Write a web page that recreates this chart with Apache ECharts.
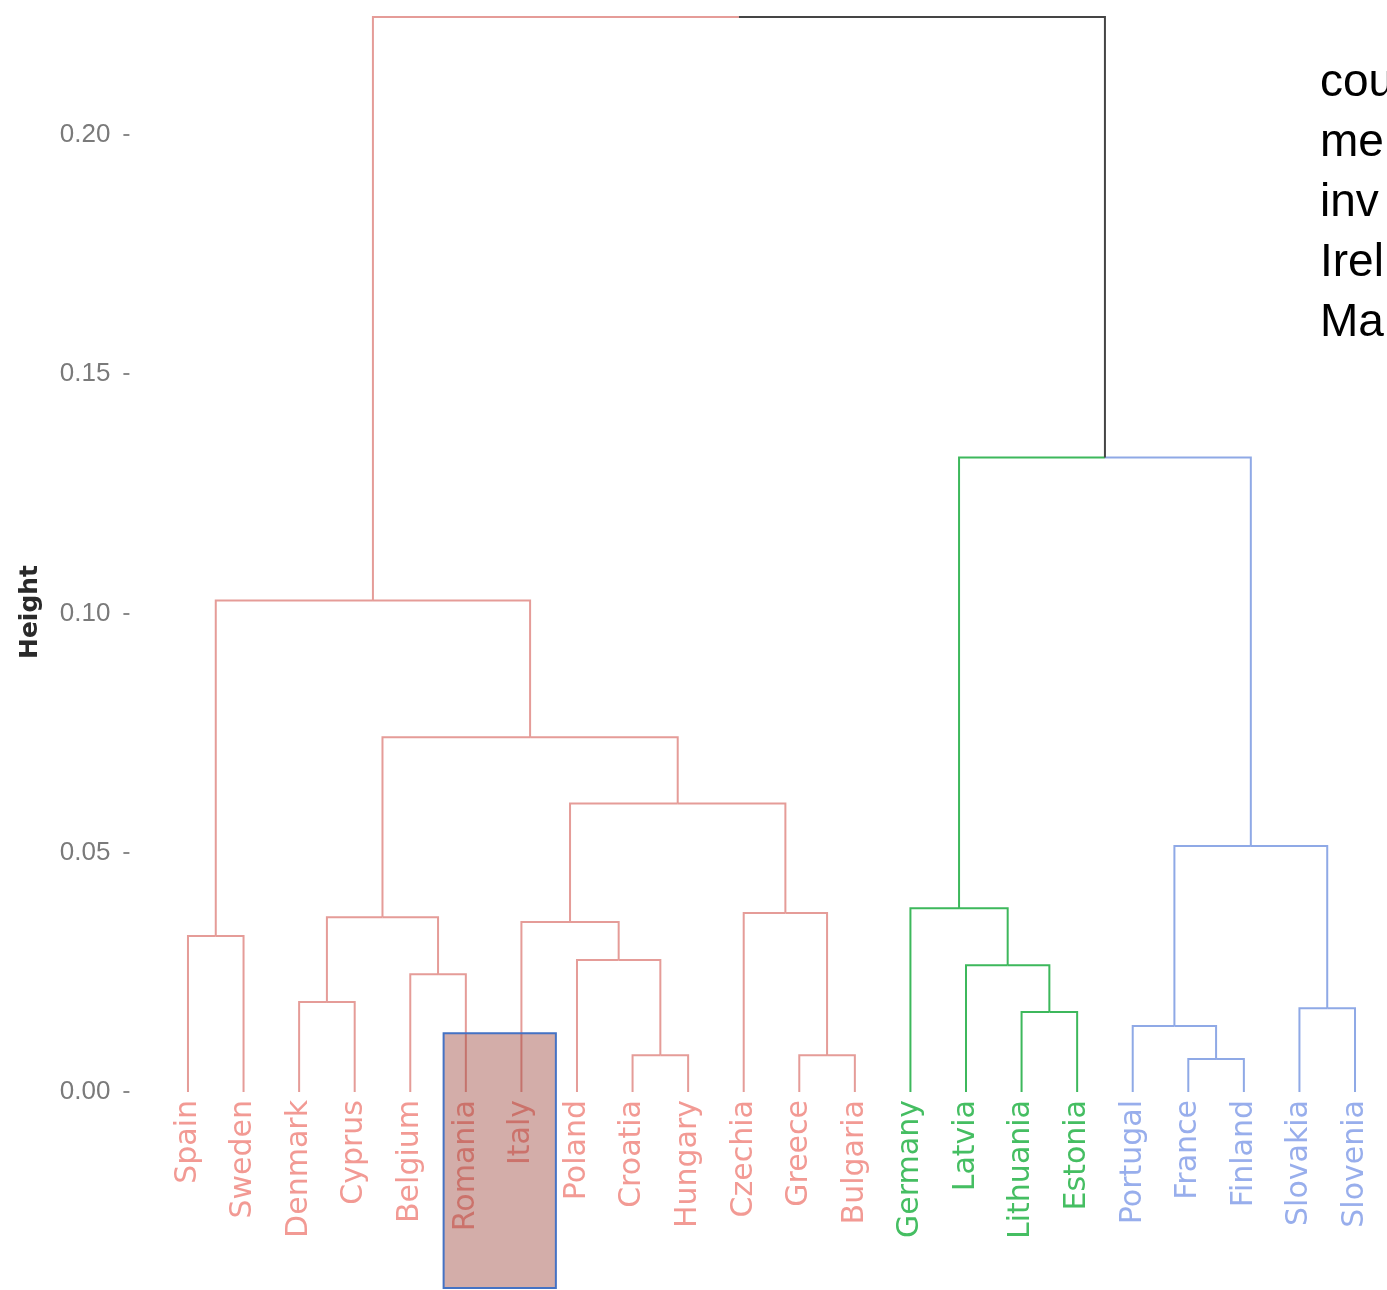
<!DOCTYPE html>
<html><head><meta charset="utf-8">
<script src="https://cdn.jsdelivr.net/npm/echarts@6/dist/echarts.min.js"></script>
<style>html,body{margin:0;padding:0;background:#fff}#c{width:1387px;height:1290px}</style>
</head><body><div id="c"></div>
<script>
// ---- data ----
const leafLabels = ['Spain','Sweden','Denmark','Cyprus','Belgium','Romania','Italy','Poland','Croatia','Hungary','Czechia','Greece','Bulgaria','Germany','Latvia','Lithuania','Estonia','Portugal','France','Finland','Slovakia','Slovenia'];
const leafCluster = [0,0,0,0,0,0,0,0,0,0,0,0,0,1,1,1,1,2,2,2,2,2];
// hclust-style merges: negative = leaf (1-based position), positive = earlier merge step (1-based)
const mergeLeft   = [-19,-9,-12,-18,-16,-21,-3,-5,-15,-8,-1,-7,7,-11,-14,4,12,13,11,15,19];
const mergeRight  = [-20,-10,-13,1,-17,-22,-4,-6,5,2,-2,10,8,3,9,6,14,17,18,16,20];
const mergeHeight = [0.0069,0.0077,0.0077,0.0138,0.0167,0.0175,0.0188,0.0246,0.0265,0.0276,0.0326,0.0355,0.0365,0.0374,0.0384,0.0514,0.0603,0.0741,0.1027,0.1326,0.2246];
const yTicks = [0, 0.05, 0.10, 0.15, 0.20];
const highlightLeaves = ['Romania','Italy'];
const highlightTop = 0.0123;
const sideText = ['cou','me','inv','Irel','Ma'];

// ---- styles ----
const lineColors = ['#E59C98','#3DB85C','#8FA9E6','#454545'];
const labelColors = ['#F29A94','#45BE62','#98AEEC'];

// ---- build edges from merges ----
const merged = [];
const edges = [];
function nodeOf(ref){
  if (ref < 0) { const i = -ref - 1; return {x: i, h: 0, leaves: [i]}; }
  return merged[ref - 1];
}
for (let k = 0; k < mergeHeight.length; k++) {
  const a = nodeOf(mergeLeft[k]), b = nodeOf(mergeRight[k]);
  const x = (a.x + b.x) / 2, h = mergeHeight[k];
  [a, b].forEach(c => {
    const cl = leafCluster[c.leaves[0]];
    const same = c.leaves.every(l => leafCluster[l] === cl);
    edges.push([x, h, c.x, c.h, same ? cl : 3]);
  });
  merged.push({x, h, leaves: a.leaves.concat(b.leaves)});
}
const hiIdx = highlightLeaves.map(n => leafLabels.indexOf(n));

const chart = echarts.init(document.getElementById('c'), null, {renderer: 'canvas'});
const rich = {};
labelColors.forEach((c, i) => { rich['c' + i] = {color: c, fontSize: 30, fontFamily: 'DejaVu Sans'}; });

chart.setOption({
  animation: false,
  backgroundColor: '#ffffff',
  grid: {left: 132.4, right: 4.2, top: 15.15, bottom: 198},
  xAxis: {
    type: 'value', min: -1, max: 21.5, interval: 1,
    axisLine: {show: false, onZero: false}, axisTick: {show: false}, splitLine: {show: false},
    axisLabel: {
      customValues: leafLabels.map((_, i) => i),
      rotate: 90, margin: 8,
      formatter: v => (Number.isInteger(v) && v >= 0 && v < leafLabels.length) ? `{c${leafCluster[v]}|${leafLabels[v]}}` : '',
      rich: rich
    }
  },
  yAxis: {
    type: 'value', min: 0, max: 0.225, offset: 3,
    axisLine: {show: false, onZero: false},
    axisTick: {show: true, length: 6, customValues: yTicks, lineStyle: {color: '#8a8a8a', width: 2}},
    axisLabel: {customValues: yTicks, formatter: v => v.toFixed(2), color: '#7a7a7a', fontSize: 26, fontFamily: 'Liberation Sans', margin: 19},
    splitLine: {show: false}
  },
  graphic: [
    {type: 'text', x: 30, y: 612, rotation: Math.PI / 2,
     style: {text: 'Height', align: 'center', verticalAlign: 'middle', font: 'bold 25px "DejaVu Sans"', fill: '#2a2a2a'}}
  ].concat(sideText.map((t, i) => ({
    type: 'text', x: 1320, y: 83 + i * 60,
    style: {text: t, align: 'left', verticalAlign: 'middle', font: '46px "Liberation Sans"', fill: '#000'}
  }))),
  series: [
    {
      type: 'custom', clip: false, z: 3,
      encode: {x: [0, 2], y: [1, 3]},
      data: edges,
      renderItem: (params, api) => {
        const p0 = api.coord([api.value(0), api.value(1)]);
        const p1 = api.coord([api.value(2), api.value(1)]);
        const p2 = api.coord([api.value(2), api.value(3)]);
        return {type: 'polyline', shape: {points: [p0, p1, p2]},
                style: {stroke: lineColors[api.value(4)], lineWidth: 2, fill: null}};
      }
    },
    {
      type: 'custom', clip: false, z: 10, silent: true,
      encode: {x: [0, 1], y: 2},
      data: [[Math.min(...hiIdx) - 0.4, Math.max(...hiIdx) + 0.62, highlightTop]],
      renderItem: (params, api) => {
        const a = api.coord([api.value(0), api.value(2)]);
        const b = api.coord([api.value(1), api.value(2)]);
        const bottom = api.getHeight() - 2;
        return {type: 'rect', shape: {x: a[0], y: a[1], width: b[0] - a[0], height: bottom - a[1]},
                style: {fill: 'rgba(150,60,50,0.42)', stroke: '#4472C4', lineWidth: 2}};
      }
    }
  ]
});
</script>
</body></html>
